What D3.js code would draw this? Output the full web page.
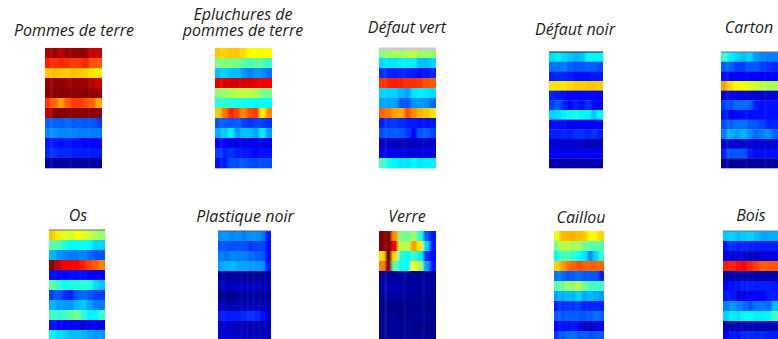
<!DOCTYPE html>
<html lang="fr">

<head>
  <meta charset="utf-8">
  <title>Heatmaps</title>
  <script type="text/javascript" src="https://d3js.org/d3.v7.min.js"></script>
  <style>
    html, body {
      margin: 0;
      padding: 0;
      background: #ffffff;
      overflow: hidden;
    }
    text {
      font-family: "Open Sans", "Noto Sans", sans-serif;
      font-style: italic;
      font-size: 16px;
      fill: #1c1c1c;
      text-anchor: middle;
    }
  </style>
</head>

<body>
  <script type="text/javascript">
    // values, 0-100 on the jet colour range
    var pommes = [
      [96, 98, 94, 97, 98, 98, 97, 93, 92],
      [85, 83, 84, 83, 82, 82, 84, 79, 79],
      [68, 69, 68, 67, 69, 68, 67, 65, 64],
      [98, 98, 98, 97, 98, 97, 97, 94, 92],
      [99, 99, 99, 99, 99, 99, 99, 98, 98],
      [82, 78, 72, 78, 82, 82, 80, 78, 71],
      [94, 99, 99, 99, 99, 99, 99, 99, 99],
      [21, 21, 21, 22, 20, 21, 20, 20, 17],
      [25, 26, 25, 25, 25, 24, 24, 24, 24],
      [13, 13, 12, 13, 12, 12, 11, 11, 11],
      [15, 16, 15, 15, 14, 14, 14, 13, 13],
      [3, 3, 3, 3, 3, 3, 3, 3, 3]
    ];
    var epluchures = [
      [68, 67, 68, 68, 66, 63, 62, 62, 63],
      [50, 50, 50, 49, 47, 44, 47, 46, 42],
      [31, 33, 31, 31, 27, 24, 27, 26, 23],
      [90, 91, 92, 92, 92, 91, 90, 89, 88],
      [51, 52, 54, 56, 56, 56, 54, 50, 49],
      [41, 42, 41, 40, 39, 39, 38, 38, 38],
      [68, 76, 84, 81, 74, 80, 82, 64, 74],
      [20, 21, 20, 21, 18, 16, 18, 17, 16],
      [29, 32, 36, 27, 31, 31, 28, 36, 27],
      [11, 11, 9, 9, 9, 9, 9, 9, 9],
      [17, 15, 16, 14, 13, 13, 11, 12, 12],
      [12, 13, 19, 19, 20, 19, 18, 19, 19]
    ];
    var defautVert = [
      [50, 53, 54, 53, 55, 56, 53, 52, 52],
      [34, 35, 35, 36, 36, 36, 31, 31, 33],
      [16, 15, 14, 15, 14, 13, 12, 13, 15],
      [82, 84, 85, 84, 83, 83, 82, 80, 79],
      [33, 33, 33, 30, 28, 35, 36, 35, 34],
      [28, 28, 28, 20, 20, 26, 27, 26, 22],
      [78, 76, 72, 70, 80, 74, 70, 68, 65],
      [14, 16, 17, 15, 14, 13, 12, 12, 13],
      [19, 20, 21, 20, 17, 11, 20, 21, 18],
      [6, 6, 5, 5, 5, 6, 6, 6, 6],
      [9, 9, 10, 9, 8, 8, 8, 9, 9],
      [45, 40, 36, 35, 35, 37, 35, 36, 36]
    ];
    var defautNoir = [
      [34, 36, 34, 32, 30, 31, 37, 37, 37],
      [23, 23, 24, 21, 20, 20, 21, 21, 19],
      [14, 15, 15, 14, 12, 12, 12, 13, 13],
      [65, 65, 65, 66, 67, 67, 68, 68, 67],
      [15, 13, 12, 11, 11, 11, 11, 11, 11],
      [17, 20, 15, 11, 14, 11, 16, 11, 11],
      [33, 34, 36, 39, 40, 38, 37, 32, 38],
      [12, 12, 12, 11, 11, 11, 11, 11, 11],
      [14, 14, 15, 14, 16, 16, 15, 16, 14],
      [7, 7, 7, 7, 7, 6, 5, 5, 5],
      [11, 11, 10, 10, 10, 10, 10, 10, 10],
      [4, 4, 4, 4, 4, 4, 4, 4, 4]
    ];
    var carton = [
      [43, 36, 33, 31, 33, 27, 25, 24, 24],
      [21, 21, 17, 17, 20, 20, 18, 16, 15],
      [12, 11, 11, 11, 11, 11, 11, 11, 11],
      [72, 66, 63, 62, 60, 58, 56, 54, 54],
      [8, 8, 9, 8, 7, 7, 7, 7, 7],
      [17, 19, 22, 22, 21, 14, 12, 12, 12],
      [13, 9, 11, 12, 12, 12, 12, 12, 12],
      [19, 21, 23, 23, 20, 20, 18, 14, 15],
      [24, 30, 27, 30, 26, 22, 24, 26, 21],
      [7, 7, 7, 7, 7, 7, 7, 7, 7],
      [14, 20, 20, 20, 14, 12, 12, 12, 12],
      [3, 2, 2, 2, 2, 2, 2, 2, 2]
    ];
    var os = [
      [68, 64, 60, 58, 62, 60, 57, 54, 52],
      [46, 45, 41, 38, 38, 39, 37, 33, 33],
      [30, 27, 25, 24, 24, 25, 22, 20, 20],
      [99, 94, 89, 88, 88, 85, 81, 78, 75],
      [12, 11, 10, 12, 12, 12, 10, 10, 11],
      [47, 42, 39, 40, 41, 42, 41, 34, 32],
      [18, 20, 16, 14, 20, 22, 20, 18, 17],
      [30, 27, 27, 27, 30, 32, 28, 24, 24],
      [44, 42, 43, 47, 49, 42, 36, 37, 43],
      [12, 11, 11, 11, 11, 7, 9, 9, 9],
      [36, 34, 33, 31, 31, 30, 28, 27, 27]
    ];
    var plastique = [
      [26, 27, 25, 26, 24, 26, 26, 24, 13],
      [20, 20, 19, 19, 19, 16, 18, 18, 12],
      [24, 23, 25, 24, 24, 22, 21, 20, 12],
      [28, 30, 30, 28, 28, 27, 27, 26, 14],
      [3, 3, 3, 3, 2, 2, 2, 2, 3],
      [6, 6, 6, 6, 6, 6, 5, 5, 5],
      [2, 2, 1, 3, 3, 3, 3, 3, 3],
      [6, 5, 4, 5, 5, 5, 5, 5, 5],
      [14, 14, 14, 14, 15, 16, 15, 12, 7],
      [6, 6, 6, 5, 5, 4, 4, 4, 5],
      [7, 7, 7, 6, 6, 5, 5, 5, 5]
    ];
    var verre = [
      [100, 100, 73, 50, 48, 53, 41, 20, 13],
      [100, 99, 88, 56, 56, 72, 64, 33, 13],
      [66, 100, 66, 41, 38, 43, 36, 16, 11],
      [75, 99, 46, 39, 38, 62, 54, 28, 13],
      [2, 2, 2, 2, 2, 2, 2, 2, 2],
      [4, 5, 4, 4, 3, 3, 2, 3, 3],
      [2, 3, 3, 3, 2, 2, 2, 2, 2],
      [1, 1, 1, 1, 1, 1, 1, 1, 1],
      [2, 2, 2, 1, 1, 2, 3, 2, 2],
      [2, 2, 2, 2, 2, 1, 1, 1, 1],
      [2, 2, 2, 2, 2, 2, 2, 2, 1]
    ];
    var caillou = [
      [60, 69, 70, 70, 69, 68, 63, 63, 67],
      [50, 56, 55, 53, 53, 48, 46, 46, 45],
      [38, 44, 44, 42, 38, 35, 26, 33, 42],
      [67, 72, 76, 78, 80, 78, 78, 78, 78],
      [23, 22, 20, 21, 22, 20, 20, 20, 14],
      [46, 48, 53, 52, 55, 48, 44, 44, 44],
      [28, 29, 31, 30, 33, 28, 30, 29, 27],
      [14, 16, 16, 16, 17, 14, 14, 15, 14],
      [20, 20, 21, 21, 20, 20, 21, 23, 21],
      [11, 12, 12, 13, 9, 6, 6, 9, 9],
      [16, 20, 22, 23, 20, 21, 19, 20, 20]
    ];
    var bois = [
      [32, 33, 31, 32, 33, 31, 28, 29, 29],
      [13, 16, 14, 15, 14, 14, 14, 14, 14],
      [8, 8, 8, 7, 6, 6, 8, 8, 8],
      [85, 84, 86, 87, 84, 81, 78, 79, 79],
      [4, 4, 4, 4, 4, 4, 4, 4, 4],
      [11, 12, 12, 14, 14, 14, 14, 14, 13],
      [13, 13, 8, 9, 11, 11, 11, 14, 14],
      [24, 27, 24, 22, 20, 23, 24, 22, 31],
      [33, 36, 35, 38, 38, 36, 36, 37, 44],
      [4, 4, 4, 4, 5, 4, 4, 4, 5],
      [11, 13, 12, 15, 15, 15, 15, 14, 14]
    ];

    // left, right, top, bottom of each heatmap; label centre and baselines
    var panels = [
      { lines: ["Pommes de terre"], values: pommes, box: [45, 102, 48, 168], tx: 74, ty: 36, top: null },
      { lines: ["Epluchures de", "pommes de terre"], values: epluchures, box: [215, 272, 48, 168], tx: 243, ty: 20, top: null },
      { lines: ["Défaut vert"], values: defautVert, box: [379, 436, 48, 168], tx: 407, ty: 33, top: "#cccccc" },
      { lines: ["Défaut noir"], values: defautNoir, box: [549, 603, 52, 168], tx: 575, ty: 35, top: "#102030" },
      { lines: ["Carton"], values: carton, box: [721, 778, 52, 168], tx: 749, ty: 33, top: "#607080" },
      { lines: ["Os"], values: os, box: [49, 105, 230, 340], tx: 78, ty: 221, top: "#607060" },
      { lines: ["Plastique noir"], values: plastique, box: [218, 271, 231, 341], tx: 245, ty: 222, top: "#506070" },
      { lines: ["Verre"], values: verre, box: [379, 436, 231, 341], tx: 407, ty: 222, top: null },
      { lines: ["Caillou"], values: caillou, box: [554, 604, 231, 341], tx: 581, ty: 223, top: null },
      { lines: ["Bois"], values: bois, box: [723, 778, 231, 341], tx: 751, ty: 221, top: "#6080a0" }
    ];

    var w = 778;
    var h = 339;

    var svg = d3.select("body").append("svg")
      .attr("width", w)
      .attr("height", h)
      .style("display", "block");

    var defs = svg.append("defs");

    // the reference is a resampled image: columns run into each other, rows stay sharper
    defs.append("filter")
      .attr("id", "soft")
      .attr("filterUnits", "userSpaceOnUse")
      .attr("x", 0).attr("y", 0)
      .attr("width", w + 20).attr("height", h + 20)
      .append("feGaussianBlur")
      .attr("stdDeviation", "1.3 0.45");

    // jet
    var colorScale = d3.scaleLinear()
      .domain([0, 11, 37.5, 62.5, 87.5, 100])
      .range(["#00007f", "#0000ff", "#00ffff", "#ffff00", "#ff0000", "#7f0000"]);

    panels.forEach(function(p, n) {
      var x = d3.scaleBand().domain(d3.range(p.values[0].length)).range([p.box[0], p.box[1]]);
      var y = d3.scaleBand().domain(d3.range(p.values.length)).range([p.box[2], p.box[3]]);
      var last = p.values[0].length - 1;

      defs.append("clipPath")
        .attr("id", "clip" + n)
        .append("rect")
        .attr("x", p.box[0])
        .attr("y", p.box[2] - 1)
        .attr("width", p.box[1] - p.box[0])
        .attr("height", p.box[3] - p.box[2] + 2);

      var g = svg.append("g")
        .attr("clip-path", "url(#clip" + n + ")")
        .append("g")
        .attr("filter", "url(#soft)");

      // outer columns run past the clip so the blur does not fade the sides
      g.selectAll("g")
        .data(p.values)
        .enter()
        .append("g")
        .selectAll("rect")
        .data(function(row, i) {
          return row.map(function(v, j) { return { v: v, i: i, j: j }; });
        })
        .enter()
        .append("rect")
        .attr("x", function(d) { return d.j === 0 ? x(d.j) - 5 : x(d.j); })
        .attr("y", function(d) { return y(d.i); })
        .attr("width", function(d) {
          return x.bandwidth() + (d.j === 0 || d.j === last ? 5 : 0.3);
        })
        .attr("height", y.bandwidth() + 0.3)
        .attr("fill", function(d) { return colorScale(d.v); });

      if (p.top) {
        g.append("rect")
          .attr("x", p.box[0] - 5)
          .attr("y", p.box[2] - 0.5)
          .attr("width", p.box[1] - p.box[0] + 10)
          .attr("height", p.top === "#cccccc" ? 3 : 1)
          .attr("fill", p.top);
      }

      var label = svg.append("text").attr("x", p.tx).attr("y", p.ty);
      p.lines.forEach(function(line, i) {
        label.append("tspan")
          .attr("x", p.tx)
          .attr("dy", i === 0 ? 0 : 16)
          .text(line);
      });
    });
  </script>
</body>

</html>
